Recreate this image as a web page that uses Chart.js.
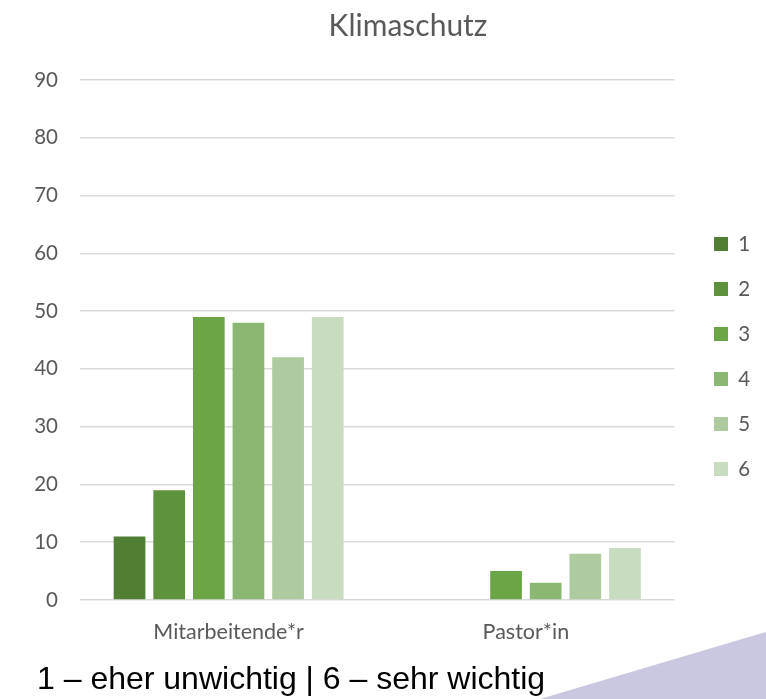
<!DOCTYPE html>
<html>
<head>
<meta charset="utf-8">
<script src="https://cdn.jsdelivr.net/npm/chart.js@4/dist/chart.umd.min.js"></script>
<style>
  html, body { margin: 0; padding: 0; background: #ffffff; }
  #wrap { position: relative; width: 766px; height: 699px; overflow: hidden; }
  #deco { position: absolute; left: 0; top: 0; width: 766px; height: 699px;
          background: #c9c8e0; clip-path: polygon(540px 699px, 766px 632px, 766px 699px); }
  #c { position: absolute; left: 0; top: 0; }
  #note { position: absolute; left: 37px; top: 662px; font-family: "Liberation Sans", Arial, sans-serif;
          font-size: 32px; line-height: 32px; color: #000000; white-space: nowrap; }
</style>
</head>
<body>
<div id="wrap">
  <div id="deco"></div>
  <canvas id="c" width="766" height="699"></canvas>
  <div id="note">1 – eher unwichtig | 6 – sehr wichtig</div>
</div>
<script>
const chartTitle = 'Klimaschutz';
const categories = ['Mitarbeitende*r', 'Pastor*in'];
const seriesNames = ['1', '2', '3', '4', '5', '6'];
const series1 = [11, 0];
const series2 = [19, 0];
const series3 = [49, 5];
const series4 = [48, 3];
const series5 = [42, 8];
const series6 = [49, 9];
const yTicks = [0, 10, 20, 30, 40, 50, 60, 70, 80, 90];

const seriesValues = [series1, series2, series3, series4, series5, series6];
const seriesColors = ['#507e32', '#5e933b', '#6ca545', '#8ab771', '#adcb9e', '#c8dcc0'];

const fontFamily = 'Lato, "Open Sans", sans-serif';
const textColor = '#595959';

new Chart(document.getElementById('c'), {
  type: 'bar',
  data: {
    labels: categories,
    datasets: seriesNames.map((name, i) => ({
      label: name,
      data: seriesValues[i],
      backgroundColor: seriesColors[i],
      borderWidth: 0,
      categoryPercentage: 0.8,
      barPercentage: 0.8
    }))
  },
  options: {
    responsive: false,
    animation: false,
    devicePixelRatio: 1,
    layout: { padding: { left: 55.85, right: 5.85, top: 14, bottom: 0 } },
    plugins: {
      title: {
        display: true,
        text: chartTitle,
        color: textColor,
        font: { family: fontFamily, size: 30, weight: 'normal', lineHeight: 0.8 },
        padding: { top: 0, bottom: 42 }
      },
      legend: {
        display: true,
        position: 'right',
        labels: {
          boxWidth: 14,
          boxHeight: 14,
          padding: 24.5,
          color: textColor,
          font: { family: fontFamily, size: 20.5 }
        }
      },
      tooltip: { enabled: false }
    },
    scales: {
      x: {
        grid: { display: false },
        border: { display: false },
        ticks: { color: textColor, font: { family: fontFamily, size: 21.5 }, padding: 11 },
        afterFit(s) { s.height = 99; }
      },
      y: {
        min: 0,
        max: 90,
        afterBuildTicks(s) { s.ticks = yTicks.map(v => ({ value: v })); },
        grid: { color: '#d9d9d9', lineWidth: 1.5, drawTicks: false },
        border: { display: false },
        ticks: {
          color: textColor, font: { family: fontFamily, size: 20.5 },
          mirror: true, crossAlign: 'far', padding: -45.8
        },
        afterFit(s) { s.width = 24.15; }
      },
      yR: {
        position: 'right',
        display: true,
        grid: { display: false },
        border: { display: false },
        ticks: { display: false },
        afterFit(s) { s.width = 15; }
      }
    }
  }
});
</script>
</body>
</html>
